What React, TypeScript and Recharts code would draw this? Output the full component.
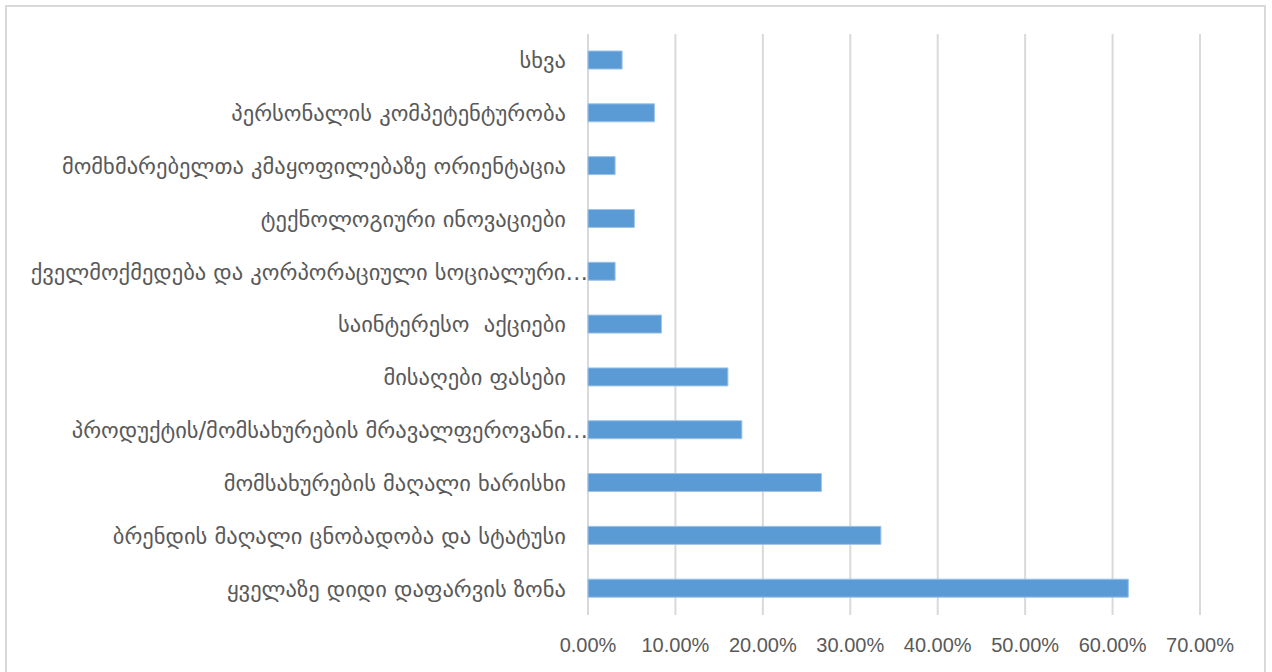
import { BarChart, Bar, XAxis, YAxis, CartesianGrid } from "recharts";

const categories = [
  "სხვა",
  "პერსონალის კომპეტენტურობა",
  "მომხმარებელთა კმაყოფილებაზე ორიენტაცია",
  "ტექნოლოგიური ინოვაციები",
  "ქველმოქმედება და კორპორაციული სოციალური…",
  "საინტერესო  აქციები",
  "მისაღები ფასები",
  "პროდუქტის/მომსახურების მრავალფეროვანი…",
  "მომსახურების მაღალი ხარისხი",
  "ბრენდის მაღალი ცნობადობა და სტატუსი",
  "ყველაზე დიდი დაფარვის ზონა",
];

const shares = [0.039, 0.076, 0.031, 0.053, 0.031, 0.084, 0.16, 0.176, 0.267, 0.335, 0.618];

const xTicks = [0, 0.1, 0.2, 0.3, 0.4, 0.5, 0.6, 0.7];

const data = categories.map((name, i) => ({ name, value: shares[i] }));

const fmtPct = (v: number) => (v * 100).toFixed(2) + "%";

// Excel-style clipped labels run on past the usual label edge up to the axis
function CategoryTick(props: any) {
  const { x, y, payload } = props;
  const text: string = payload.value;
  const shift = text.endsWith("…") ? 22 : 0;
  return (
    <text
      x={x + shift}
      y={y}
      dy="0.355em"
      textAnchor="end"
      fill="#595959"
      fontSize={22.5}
      fontFamily="'DejaVu Sans', sans-serif"
      style={{ whiteSpace: "pre" }}
    >
      {text}
    </text>
  );
}

export default function App() {
  return (
    <div
      style={{
        position: "absolute",
        left: 0,
        top: 0,
        width: 1272,
        height: 672,
        overflow: "hidden",
        background: "#fff",
      }}
    >
      <div
        style={{
          position: "absolute",
          left: 5,
          top: 5,
          width: 1257,
          height: 700,
          borderTop: "2px solid #d9d9d9",
          borderLeft: "2px solid #d9d9d9",
          borderRight: "2px solid #d9d9d9",
        }}
      />
      <div style={{ position: "absolute", left: 0, top: 0 }}>
        <BarChart
          width={1272}
          height={672}
          data={data}
          layout="vertical"
          margin={{ top: 34, right: 72, bottom: 0, left: 0 }}
        >
          <CartesianGrid horizontal={false} stroke="#d9d9d9" strokeWidth={2} />
          <XAxis
            type="number"
            domain={[0, 0.7]}
            ticks={xTicks}
            tickFormatter={fmtPct}
            axisLine={false}
            tickLine={false}
            tickMargin={17}
            height={57}
            tick={{ fill: "#595959", fontSize: 20, fontFamily: "'Liberation Sans', sans-serif" }}
          />
          <YAxis
            type="category"
            dataKey="name"
            width={588}
            axisLine={false}
            tickLine={false}
            tickMargin={16}
            interval={0}
            tick={<CategoryTick />}
          />
          <Bar dataKey="value" fill="#5b9bd5" stroke="#9dc3e6" strokeWidth={1} barSize={18} isAnimationActive={false} />
        </BarChart>
      </div>
    </div>
  );
}
